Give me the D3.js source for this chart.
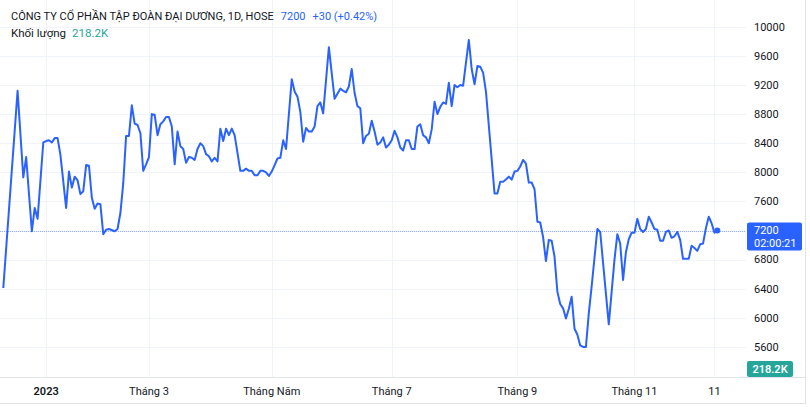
<!DOCTYPE html>
<meta charset="utf-8">
<style>
    body { margin: 0; background: #fff; }
    svg { display: block; font-family: Roboto, "Liberation Sans", sans-serif; }
    .grid line { stroke: #f0f3fa; stroke-width: 1; }
    .axis text { fill: #131722; font-size: 11px; }
</style>
<svg width="810" height="407"></svg>
<script src="https://cdn.jsdelivr.net/npm/d3@7"></script>
<script>

    // trading-day index of each vertex and its close
    var days = [0, 5, 7, 8, 10, 11, 12, 14, 15, 16, 17, 18, 19, 20, 22, 23, 24, 25, 26, 27, 28, 29, 30, 31, 32, 33, 34, 35, 36, 37, 39, 40,
        41, 42, 43, 44, 45, 46, 47, 48, 49, 50, 51, 52, 53, 54, 55, 56, 57, 58, 59, 60, 61, 62, 63, 64, 65, 66, 67, 68, 69, 70,
        71, 72, 73, 74, 75, 76, 77, 78, 79, 80, 81, 83, 84, 85, 86, 87, 88, 89, 90, 91, 92, 93, 94, 95, 96, 97, 98, 99, 101,
        102, 103, 104, 105, 106, 107, 108, 109, 110, 111, 112, 114, 115, 116, 117, 118, 119, 120, 121, 122, 123, 124, 125,
        126, 127, 128, 129, 130, 131, 132, 133, 134, 135, 136, 137, 138, 139, 140, 141, 142, 143, 144, 145, 146, 147, 148,
        149, 150, 151, 152, 153, 154, 155, 156, 157, 158, 159, 160, 161, 163, 164, 165, 166, 167, 168, 169, 172, 173, 174,
        175, 176, 177, 178, 179, 180, 181, 182, 183, 184, 185, 186, 187, 188, 189, 190, 191, 192, 193, 194, 195, 196, 197,
        198, 199, 200, 201, 202, 203, 204, 205, 206, 208, 209, 212, 214, 215, 216, 217, 218, 219, 220, 221, 222, 223, 224,
        225, 226, 227, 228, 229, 230, 231, 232, 233, 234, 235, 236, 237, 238, 239, 240, 241, 242, 243, 244, 245, 246, 247,
        248, 249, 250];

    var closes = [6410, 9120, 7930, 8210, 7190, 7510, 7360, 8410, 8430, 8440, 8410, 8470, 8470, 8240, 7510, 8010, 7790, 7940, 7890, 7700, 7740, 8100, 8090, 7650, 7500, 7570, 7560, 7150, 7210, 7220, 7190, 7220,
        7440, 7850, 8500, 8500, 8920, 8670, 8650, 8540, 8020, 8110, 8210, 8800, 8790, 8510, 8660, 8700, 8760, 8760, 8630, 8110, 8560, 8360, 8320, 8130, 8210, 8200, 8170, 8320, 8400, 8360,
        8250, 8220, 8150, 8200, 8150, 8600, 8430, 8600, 8510, 8600, 8510, 8020, 8020, 8050, 8020, 8020, 7960, 7960, 8020, 8020, 8000, 7950, 8010, 8100, 8190, 8200, 8440, 8320, 9280,
        9110, 9040, 8830, 8420, 8610, 8560, 8560, 8630, 8910, 8960, 8810, 9720, 9360, 9010, 9080, 9150, 9120, 9100, 9180, 9420, 9090, 8910, 8880,
        8400, 8500, 8530, 8710, 8560, 8380, 8410, 8480, 8340, 8380, 8440, 8570, 8480, 8340, 8300, 8440, 8440, 8320, 8320, 8630, 8660, 8510, 8480,
        8400, 8590, 8970, 8800, 8900, 8960, 8940, 9230, 8910, 9200, 9170, 9200, 9190, 9820, 9420, 9210, 9460, 9450, 9370, 9110, 7710, 7710, 7870,
        7870, 7900, 7940, 7900, 8010, 8020, 8080, 8170, 8120, 7860, 7860, 7770, 7320, 7310, 7110, 6780, 7070, 7060, 6840, 6360, 6190, 6130, 5990,
        6120, 6290, 5850, 5770, 5620, 5600, 5600, 6060, 6430, 7220, 7180, 5910, 6800, 7150, 7020, 6520, 6900, 7080, 7170, 7170, 7360, 7220, 7180,
        7220, 7390, 7310, 7220, 7210, 7060, 7060, 7180, 7200, 7100, 7120, 7180, 7070, 6810, 6810, 6810, 6990, 6960, 6920, 7010, 7020, 7230, 7390,
        7300, 7170, 7200];

    var priceTicks = [5600, 6000, 6400, 6800, 7200, 7600, 8000, 8400, 8800, 9200, 9600, 10000];
    var timeTickDays = [15, 51, 94, 136, 180, 221, 249];
    var timeTickLabels = ["2023", "Tháng 3", "Tháng Năm", "Tháng 7", "Tháng 9", "Tháng 11", "11"];

    var lastPrice = 7200, volume = "218.2K";

    var svg = d3.select("svg"),
        width = +svg.attr("width"),
        height = +svg.attr("height");

    var paneW = 746, paneH = 377;   // plot pane, price scale on the right, time scale below

    var x = d3.scaleLinear().domain([0, 250]).range([3.3, 717.3]);
    var y = d3.scaleLinear().domain([5600, 10000]).range([346.9, 26.8]);

    var data = days.map(function(d, i) { return { day: d, close: closes[i] }; });

    // grid
    var grid = svg.append("g").attr("class", "grid");
    grid.selectAll(".h").data(priceTicks).enter().append("line")
        .attr("x1", 0).attr("x2", paneW)
        .attr("y1", function(d) { return Math.round(y(d)) + 0.5; })
        .attr("y2", function(d) { return Math.round(y(d)) + 0.5; });
    grid.selectAll(".v").data(timeTickDays).enter().append("line")
        .attr("y1", 0).attr("y2", paneH)
        .attr("x1", function(d) { return Math.round(x(d)) + 0.5; })
        .attr("x2", function(d) { return Math.round(x(d)) + 0.5; });

    svg.append("clipPath").attr("id", "pane")
        .append("rect").attr("width", paneW).attr("height", paneH);

    // last price dotted line
    svg.append("line")
        .attr("x1", 0).attr("x2", paneW)
        .attr("y1", Math.round(y(lastPrice)) + 0.5).attr("y2", Math.round(y(lastPrice)) + 0.5)
        .attr("stroke", "#2962ff").attr("stroke-opacity", 0.45)
        .attr("stroke-width", 1).attr("stroke-dasharray", "1,1");

    var line = d3.line()
        .x(function(d) { return x(d.day); })
        .y(function(d) { return y(d.close); });

    svg.append("path")
        .datum(data)
        .attr("clip-path", "url(#pane)")
        .attr("fill", "none")
        .attr("stroke", "#2962ff")
        .attr("stroke-width", 2)
        .attr("stroke-linejoin", "round")
        .attr("d", line);

    var last = data[data.length - 1];
    svg.append("circle")
        .attr("cx", x(last.day)).attr("cy", y(last.close)).attr("r", 3)
        .attr("fill", "#2962ff");

    // borders
    var border = "#e0e3eb";
    svg.append("line").attr("x1", 0).attr("x2", 805).attr("y1", paneH + 0.5).attr("y2", paneH + 0.5).attr("stroke", border);
    svg.append("line").attr("x1", 0).attr("x2", 805).attr("y1", 403.5).attr("y2", 403.5).attr("stroke", border);
    svg.append("line").attr("x1", 805.5).attr("x2", 805.5).attr("y1", 0).attr("y2", 404).attr("stroke", border);

    // price scale
    var yAxis = svg.append("g").attr("class", "axis");
    yAxis.selectAll("text").data(priceTicks).enter().append("text")
        .attr("x", 754)
        .attr("y", function(d) { return y(d); })
        .attr("dy", "0.35em")
        .text(function(d) { return d; });

    // last price label
    var ly = y(lastPrice);
    svg.append("rect").attr("x", 747).attr("y", ly - 8).attr("width", 55).attr("height", 28)
        .attr("rx", 2).attr("fill", "#2962ff");
    svg.append("text").attr("x", 754).attr("y", ly).attr("dy", "0.35em")
        .attr("fill", "#fff").attr("font-size", 11).text(lastPrice);
    svg.append("text").attr("x", 754).attr("y", ly + 13).attr("dy", "0.35em")
        .attr("fill", "#fff").attr("font-size", 11).text("02:00:21");

    // volume label
    svg.append("rect").attr("x", 747).attr("y", 361).attr("width", 46).attr("height", 16)
        .attr("rx", 2).attr("fill", "#26a69a");
    svg.append("text").attr("x", 770).attr("y", 369).attr("dy", "0.35em").attr("text-anchor", "middle")
        .attr("fill", "#fff").attr("font-size", 11).attr("font-weight", 600).text(volume);

    // time scale
    var xAxis = svg.append("g").attr("class", "axis");
    xAxis.selectAll("text").data(timeTickDays).enter().append("text")
        .attr("x", function(d) { return x(d); })
        .attr("y", 391)
        .attr("dy", "0.35em")
        .attr("text-anchor", "middle")
        .attr("font-weight", function(d, i) { return i === 0 ? 600 : 400; })
        .text(function(d, i) { return timeTickLabels[i]; });

    // legend
    var title = svg.append("text").attr("x", 11).attr("y", 20).attr("font-size", 11);
    title.append("tspan").attr("fill", "#131722")
        .text("CÔNG TY CỔ PHẦN TẬP ĐOÀN ĐẠI DƯƠNG, 1D, HOSE");
    title.append("tspan").attr("dx", 7).attr("fill", "#2962ff").text(lastPrice);
    title.append("tspan").attr("dx", 7).attr("fill", "#2962ff").text("+30 (+0.42%)");

    var vol = svg.append("text").attr("x", 11).attr("y", 37).attr("font-size", 11.5);
    vol.append("tspan").attr("fill", "#131722").text("Khối lượng");
    vol.append("tspan").attr("dx", 6).attr("fill", "#26a69a").text(volume);

</script>
